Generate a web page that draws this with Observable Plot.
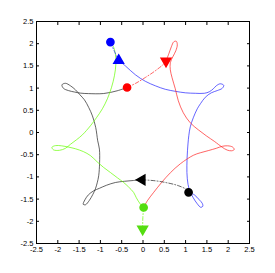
<!DOCTYPE html>
<html><head><meta charset="utf-8">
<script src="https://cdn.jsdelivr.net/npm/d3@7"></script>
<script src="https://cdn.jsdelivr.net/npm/@observablehq/plot@0.6"></script>
<style>body{margin:0;background:#fff}</style>
</head><body><div id="chart"></div>
<script>
const tickValues = [-2.5,-2,-1.5,-1,-0.5,0,0.5,1,1.5,2,2.5];

// solid trajectories
const blueSolid = [[-0.571,1.622],[-0.414,1.500],[-0.179,1.300],[0.055,1.153],[0.289,1.052],[0.524,0.973],[0.758,0.928],[0.993,0.894],[1.227,0.883],[1.438,0.883],[1.556,0.917],[1.650,0.984],[1.720,1.052],[1.813,1.097],[1.895,1.063],[1.860,0.995],[1.743,0.944],[1.603,0.894],[1.462,0.793],[1.350,0.650],[1.274,0.534],[1.180,0.331],[1.110,0.128],[1.075,-0.074],[1.044,-0.412],[1.030,-0.750],[1.040,-1.043],[1.087,-1.291],[1.180,-1.471],[1.274,-1.606],[1.356,-1.685],[1.403,-1.662],[1.391,-1.595],[1.321,-1.516],[1.204,-1.403],[1.070,-1.347]];
const redSolid = [[0.540,1.608],[0.606,1.773],[0.665,1.930],[0.723,2.043],[0.782,2.054],[0.805,1.975],[0.770,1.840],[0.700,1.705],[0.641,1.570],[0.641,1.412],[0.683,1.232],[0.758,0.984],[0.829,0.714],[0.946,0.444],[1.110,0.218],[1.298,0.061],[1.485,-0.074],[1.673,-0.198],[1.767,-0.266],[1.860,-0.333],[1.977,-0.396],[2.083,-0.412],[2.141,-0.383],[2.106,-0.329],[1.989,-0.300],[1.860,-0.311],[1.720,-0.356],[1.532,-0.408],[1.344,-0.457],[1.180,-0.514],[0.876,-0.705],[0.641,-0.908],[0.430,-1.133],[0.243,-1.358],[0.102,-1.538],[0.015,-1.689]];
const blackSolid = [[-0.022,-1.065],[-0.226,-1.081],[-0.437,-1.099],[-0.648,-1.126],[-0.859,-1.189],[-1.023,-1.257],[-1.157,-1.313],[-1.281,-1.403],[-1.363,-1.516],[-1.403,-1.617],[-1.351,-1.628],[-1.258,-1.527],[-1.176,-1.392],[-1.117,-1.268],[-1.075,-1.133],[-1.040,-0.975],[-1.019,-0.682],[-1.023,-0.374],[-1.063,-0.187],[-1.110,0.113],[-1.187,0.374],[-1.274,0.563],[-1.375,0.736],[-1.480,0.849],[-1.586,0.962],[-1.703,1.052],[-1.820,1.108],[-1.902,1.074],[-1.867,0.995],[-1.750,0.944],[-1.609,0.912],[-1.469,0.887],[-1.281,0.876],[-0.922,0.878],[-0.608,0.939],[-0.374,1.014]];
const greenSolid = [[0.015,-1.689],[-0.062,-1.613],[-0.156,-1.471],[-0.219,-1.351],[-0.343,-1.223],[-0.454,-1.126],[-0.601,-1.020],[-0.765,-0.901],[-0.929,-0.784],[-1.077,-0.660],[-1.234,-0.520],[-1.400,-0.430],[-1.584,-0.367],[-1.748,-0.329],[-1.913,-0.300],[-2.054,-0.295],[-2.137,-0.333],[-2.102,-0.390],[-1.961,-0.401],[-1.820,-0.356],[-1.703,-0.266],[-1.562,-0.164],[-1.422,-0.052],[-1.234,0.151],[-1.094,0.331],[-0.953,0.534],[-0.836,0.759],[-0.742,1.007],[-0.671,1.277],[-0.636,1.547],[-0.648,1.773],[-0.695,1.941]];

// dash-dot segments (circle to triangle)
const blueDash = [[-0.765,2.036],[-0.672,1.829],[-0.571,1.622]];
const redDash = [[-0.374,1.014],[-0.179,1.104],[0.055,1.239],[0.289,1.390],[0.484,1.541],[0.540,1.608]];
const blackDash = [[-0.022,-1.065],[0.290,-1.088],[0.601,-1.140],[0.836,-1.200],[1.033,-1.291],[1.070,-1.347]];
const greenDash = [[0.015,-1.689],[-0.004,-1.921],[-0.008,-2.176]];

// markers
const seriesNames = ["blue","red","black","green"];
const seriesColors = ["#0000ff","#ff0000","#000000","#55dd11"];
const lineColors = ["#2222ff","#ff2222","#222222","#66ff00"];
const circleX = [-0.765,-0.374,1.070,0.015];
const circleY = [2.036,1.014,-1.347,-1.689];
const triangleX = [-0.571,0.540,-0.022,-0.008];
const triangleY = [1.622,1.608,-1.065,-2.176];
const triangleRotate = [0,180,-90,180];

const circles = seriesNames.map((s,i)=>({s, x:circleX[i], y:circleY[i], c:seriesColors[i]}));
const triangles = seriesNames.map((s,i)=>({s, x:triangleX[i], y:triangleY[i], c:seriesColors[i], r:triangleRotate[i]}));

const solid = [blueSolid, redSolid, blackSolid, greenSolid].map((d,i)=>[d, lineColors[i]]);
const dashed = [blueDash, redDash, blackDash, greenDash].map((d,i)=>[d, lineColors[i]]);

const fmt = d => String(d);
const chart = Plot.plot({
  width: 275, height: 273,
  marginLeft: 36, marginRight: 26, marginTop: 21, marginBottom: 30,
  x: {domain: [-2.5, 2.5]},
  y: {domain: [-2.5, 2.5]},
  style: {fontFamily: "'Liberation Sans', Arial, sans-serif", fontSize: "7.5px", background: "white", color: "black"},
  marks: [
    ...solid.map(([d,c]) => Plot.line(d, {x: p=>p[0], y: p=>p[1], stroke: c, strokeWidth: 0.7, curve: "catmull-rom"})),
    ...dashed.map(([d,c]) => Plot.line(d, {x: p=>p[0], y: p=>p[1], stroke: c, strokeWidth: 0.7, strokeDasharray: "4,2,1,2", curve: "catmull-rom"})),
    Plot.dot(circles, {x: "x", y: "y", fill: d=>d.c, stroke: d=>d.c, r: 3.6}),
    Plot.dot(triangles, {x: "x", y: "y", fill: d=>d.c, stroke: d=>d.c, symbol: "triangle", r: 3.6, rotate: d=>d.r}),
    Plot.frame({stroke: "black", strokeWidth: 1}),
    Plot.axisX({ticks: tickValues, anchor: "bottom", tickSize: 0, tickPadding: 3, tickFormat: fmt, label: null}),
    Plot.axisX({ticks: tickValues, anchor: "bottom", tickSize: -3, text: null, label: null}),
    Plot.axisX({ticks: tickValues, anchor: "top", tickSize: -3, text: null, label: null}),
    Plot.axisY({ticks: tickValues, anchor: "left", tickSize: 0, tickPadding: 3, tickFormat: fmt, label: null}),
    Plot.axisY({ticks: tickValues, anchor: "left", tickSize: -3, text: null, label: null}),
    Plot.axisY({ticks: tickValues, anchor: "right", tickSize: -3, text: null, label: null})
  ]
});
document.getElementById("chart").appendChild(chart);
</script>
</body></html>
